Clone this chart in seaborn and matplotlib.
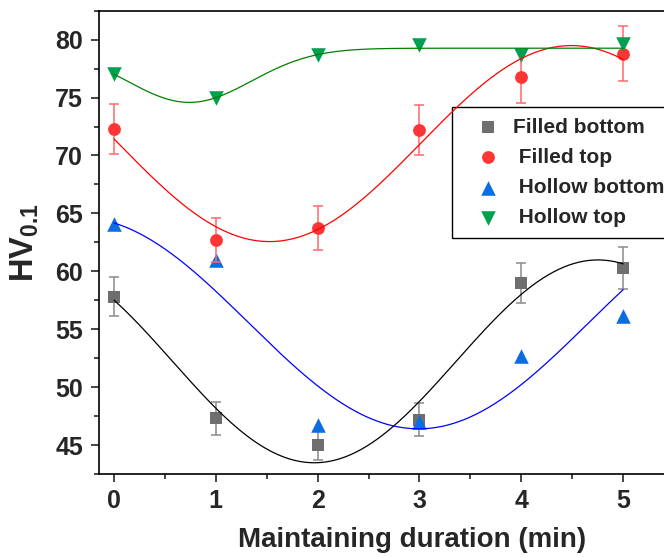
import numpy as np
import seaborn as sns
import matplotlib
matplotlib.use("Agg")
import matplotlib.pyplot as plt
from matplotlib.ticker import MultipleLocator

# data
duration = [0, 1, 2, 3, 4, 5]
filled_bottom = [57.8, 47.3, 45.0, 47.2, 59.0, 60.3]
filled_bottom_err = [1.7, 1.4, 1.3, 1.4, 1.75, 1.8]
filled_top = [72.3, 62.7, 63.7, 72.2, 76.8, 78.8]
filled_top_err = [2.15, 1.9, 1.9, 2.15, 2.3, 2.4]
hollow_bottom = [64.1, 61.0, 46.7, 47.0, 52.7, 56.1]
hollow_top = [77.0, 75.0, 78.7, 79.5, 78.7, 79.6]

labels = ["Filled bottom", " Filled top", " Hollow bottom", " Hollow top"]


def sine_fit(x, y, xs):
    # least squares y0 + a*sin(kx) + b*cos(kx), scanning k
    x = np.asarray(x, float)
    y = np.asarray(y, float)
    best = None
    for k in np.linspace(0.4, 2.0, 1601):
        M = np.column_stack([np.ones_like(x), np.sin(k * x), np.cos(k * x)])
        c = np.linalg.lstsq(M, y, rcond=None)[0]
        sse = np.sum((M @ c - y) ** 2)
        if best is None or sse < best[0]:
            best = (sse, k, c)
    _, k, c = best
    return c[0] + c[1] * np.sin(k * xs) + c[2] * np.cos(k * xs)


def gauss_fit(x, y, xs):
    # least squares y0 + A*exp(-(x-xc)^2 / 2s^2), scanning xc and s
    x = np.asarray(x, float)
    y = np.asarray(y, float)
    best = None
    for xc in np.linspace(0, 2, 201):
        for s in np.linspace(0.2, 2, 181):
            g = np.exp(-(x - xc) ** 2 / (2 * s * s))
            M = np.column_stack([np.ones_like(x), g])
            c = np.linalg.lstsq(M, y, rcond=None)[0]
            sse = np.sum((M @ c - y) ** 2)
            if best is None or sse < best[0]:
                best = (sse, xc, s, c)
    _, xc, s, c = best
    return c[0] + c[1] * np.exp(-(xs - xc) ** 2 / (2 * s * s))


sns.set_theme(style="ticks")
plt.rcParams["font.family"] = ["Liberation Sans", "DejaVu Sans"]
plt.rcParams["font.weight"] = "bold"
plt.rcParams["mathtext.fontset"] = "custom"
plt.rcParams["mathtext.rm"] = "Liberation Sans:bold"
plt.rcParams["mathtext.bf"] = "Liberation Sans:bold"

fig = plt.figure(figsize=(6.64, 5.57), dpi=100)
# the plot frame runs past the right edge of the picture, as in the reference
ax = fig.add_axes([98.5 / 664, 83 / 557, 626.5 / 664, 463.3 / 557])

gray, red, blue, green = "#6e6e6e", "#ff3535", "#0a6ee0", "#00a04f"

ax.errorbar(duration, filled_bottom, yerr=filled_bottom_err, fmt="none",
            ecolor="#8a8a8a", elinewidth=1.1, capsize=3.6, capthick=1.1, zorder=2)
sns.scatterplot(x=duration, y=filled_bottom, marker="s", s=72, color=gray,
                linewidth=0, label=labels[0], ax=ax, zorder=3)
sns.scatterplot(x=duration, y=hollow_bottom, marker="^", s=110, color=blue,
                linewidth=0, label=labels[2], ax=ax, zorder=4)
ax.errorbar(duration, filled_top, yerr=filled_top_err, fmt="none",
            ecolor="#ff6a6a", elinewidth=1.1, capsize=3.8, capthick=1.1, zorder=5)
sns.scatterplot(x=duration, y=filled_top, marker="o", s=85, color=red,
                linewidth=0, label=labels[1], ax=ax, zorder=6)
sns.scatterplot(x=duration, y=hollow_top, marker="v", s=110, color=green,
                linewidth=0, label=labels[3], ax=ax, zorder=7)

xs = np.linspace(0, 5, 300)
sns.lineplot(x=xs, y=sine_fit(duration, filled_bottom, xs), color="black", lw=0.9, ax=ax, zorder=8)
sns.lineplot(x=xs, y=sine_fit(duration, filled_top, xs), color="#ff0000", lw=0.9, ax=ax, zorder=8)
sns.lineplot(x=xs, y=sine_fit(duration, hollow_bottom, xs), color="#0000ff", lw=0.9, ax=ax, zorder=8)
sns.lineplot(x=xs, y=gauss_fit(duration, hollow_top, xs), color="#008000", lw=0.9, ax=ax, zorder=8)

ax.set_xlim(-0.152, 6.0)
ax.set_ylim(42.5, 82.5)
ax.set_xticks([0, 1, 2, 3, 4, 5])
ax.set_xticks(np.arange(0, 6.01, 0.5), minor=True)
ax.yaxis.set_major_locator(MultipleLocator(5))
ax.yaxis.set_minor_locator(MultipleLocator(2.5))
ax.tick_params(which="major", direction="out", length=6, width=1.2, labelsize=18, pad=5)
ax.tick_params(which="minor", direction="out", length=3.5, width=1.2)
for lab in ax.get_xticklabels() + ax.get_yticklabels():
    lab.set_fontweight("bold")
for sp in ax.spines.values():
    sp.set_linewidth(1.2)
    sp.set_color("black")

ax.set_xlabel("Maintaining duration (min)", fontsize=20, fontweight="bold", labelpad=10)
ax.set_ylabel(r"HV$_{0.1}$", fontsize=23.5, fontweight="bold", labelpad=10)

h, l = ax.get_legend_handles_labels()
order = [0, 2, 1, 3]
leg = ax.legend([h[i] for i in order], [l[i] for i in order],
                loc="upper left", bbox_to_anchor=(353.5 / 626.5, 0.792),
                prop={"size": 15, "weight": "bold"}, frameon=True, fancybox=False,
                edgecolor="black", framealpha=1, handlelength=2.4, handletextpad=0.0,
                labelspacing=0.53, borderpad=0.52, borderaxespad=0)
leg.get_frame().set_linewidth(1.0)

fig.savefig("out.png", dpi=100)
